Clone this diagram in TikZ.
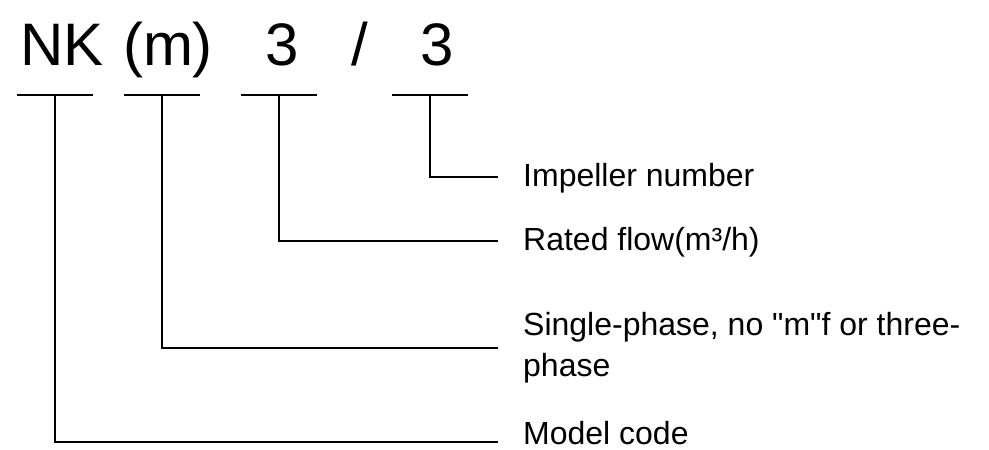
\documentclass[tikz,border=0pt]{standalone}
\usepackage{fontspec}
\setmainfont{Liberation Sans}
\usetikzlibrary{positioning}

\tikzset{
  code/.style={inner sep=0pt, anchor=base, font=\fontsize{60}{60}\selectfont},
  lbl/.style={inner sep=0pt, anchor=base west, align=left, font=\fontsize{32}{41}\selectfont},
  rule/.style={line width=2pt},
}

\begin{document}
\begin{tikzpicture}[x=1pt, y=-1pt]
%\draw[help lines] (0,0) grid[step=50] (989,450);
\useasboundingbox (0,0) rectangle (989,450);

% type code
\node[code] (nk) at (62,65) {NK};
\node[code] (m) at (168,65) {(m)};
\node[code] (flow) at (282,65) {3};
\node[code] (slash) at (360,65) {/};
\node[code] (imp) at (437,65) {3};

% bars under the code
\coordinate (b1) at (55,95);
\coordinate (b2) at (162,95);
\coordinate (b3) at (279,95);
\coordinate (b4) at (430,95);
\foreach \b in {b1,b2,b3,b4}
  \draw[rule] ([xshift=-38pt]\b) -- ([xshift=38pt]\b);

% line ends
\coordinate (e4) at (498,177);
\coordinate (e3) at (498,241);
\coordinate (e2) at (498,348);
\coordinate (e1) at (498,442);

\node[lbl] (impno) at (523,186) {Impeller number};
\node[lbl] (rated) at (523,250) {Rated flow(m³/h)};
\node[lbl] (phase) at (523,335) {Single-phase, no \textquotedbl m\textquotedbl f or three-};
\node[lbl] (phase2) at (523,376) {phase};
\node[lbl] (model) at (523,444) {Model code};

\draw[rule] (b4) |- (e4);
\draw[rule] (b3) |- (e3);
\draw[rule] (b2) |- (e2);
\draw[rule] (b1) |- (e1);

\end{tikzpicture}
\end{document}
